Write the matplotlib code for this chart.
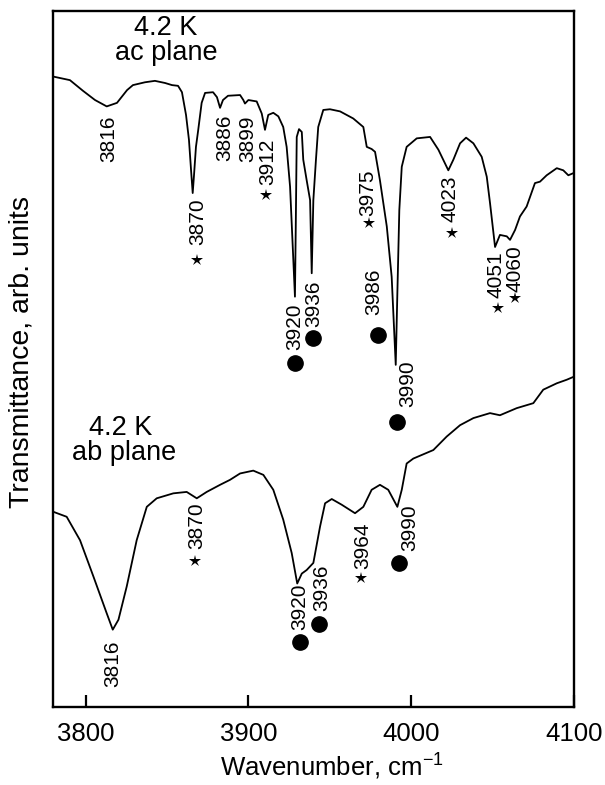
import matplotlib
matplotlib.use("Agg")
import matplotlib.pyplot as plt

# === DATA ===
# upper trace: 4.2 K, ac plane
ac_wavenumber = [3780.2, 3790.4, 3798.4, 3805.8, 3813.0, 3819.3, 3825.5, 3829.1, 3836.5, 3842.6,
                 3848.8, 3853.1, 3856.8, 3859.2, 3861.7, 3863.5, 3864.8, 3865.8, 3866.6, 3867.8,
                 3869.2, 3871.3, 3873.4, 3878.3, 3880.7, 3882.6, 3884.4, 3887.5, 3894.9, 3896.9,
                 3897.9, 3900.0, 3905.1, 3908.2, 3910.2, 3912.2, 3915.3, 3918.4, 3921.4, 3923.5,
                 3925.6, 3927.6, 3928.6, 3929.1, 3929.7, 3931.1, 3932.8, 3933.7, 3935.8, 3937.9,
                 3938.9, 3939.9, 3941.5, 3942.9, 3946.0, 3950.1, 3956.3, 3964.4, 3970.6, 3972.7,
                 3975.7, 3977.8, 3980.8, 3985.0, 3988.0, 3990.5, 3991.5, 3992.7, 3994.2, 3997.2,
                 4003.4, 4011.6, 4016.7, 4022.8, 4025.9, 4030.0, 4033.7, 4038.2, 4043.3, 4046.4,
                 4048.4, 4051.5, 4054.5, 4058.7, 4060.7, 4063.8, 4066.8, 4070.9, 4076.0, 4079.1,
                 4083.2, 4089.4, 4093.4, 4096.5, 4099.6]
ac_transmittance = [90.9, 90.4, 88.9, 87.6, 86.7, 87.2, 89.0, 89.7, 90.1, 90.3,
                    90.0, 89.7, 89.6, 88.7, 85.5, 82.0, 77.7, 74.5, 77.0, 81.0,
                    83.4, 87.2, 88.6, 88.7, 88.0, 86.5, 87.6, 88.2, 88.3, 87.6,
                    87.1, 87.6, 87.4, 85.7, 83.4, 85.5, 85.8, 85.3, 83.8, 81.0,
                    75.4, 65.1, 59.9, 69.8, 82.4, 83.5, 83.1, 79.2, 76.3, 73.5,
                    63.2, 73.5, 79.2, 83.8, 86.2, 86.3, 86.0, 85.0, 83.8, 81.0,
                    80.7, 80.3, 76.3, 69.8, 62.7, 50.3, 60.4, 72.1, 78.2, 81.0,
                    82.2, 82.4, 80.6, 77.7, 79.2, 81.5, 82.3, 81.5, 79.6, 76.8,
                    73.1, 66.9, 68.6, 68.4, 67.9, 69.3, 71.2, 72.6, 75.9, 76.1,
                    77.0, 78.0, 77.7, 77.0, 77.3]

# lower trace: 4.2 K, ab plane
ab_wavenumber = [3780.2, 3788.4, 3796.6, 3804.8, 3813.0, 3816.7, 3820.2, 3825.3, 3831.4, 3837.6,
                 3843.7, 3853.9, 3862.1, 3868.3, 3874.4, 3882.6, 3888.7, 3894.9, 3903.0, 3909.2,
                 3915.3, 3921.4, 3926.6, 3930.0, 3932.8, 3935.8, 3939.9, 3944.0, 3947.1, 3951.2,
                 3957.3, 3965.5, 3970.6, 3975.7, 3980.8, 3985.9, 3991.5, 3994.2, 3997.2, 4001.3,
                 4013.6, 4021.8, 4030.0, 4038.2, 4048.4, 4054.5, 4064.8, 4075.0, 4081.1, 4089.4,
                 4095.5, 4099.6]
ab_transmittance = [29.6, 28.9, 25.6, 20.5, 15.3, 13.0, 14.4, 19.1, 25.6, 30.3,
                    31.5, 32.2, 32.4, 31.5, 32.4, 33.4, 34.1, 35.0, 35.4, 34.8,
                    32.7, 28.5, 23.8, 19.5, 20.9, 21.4, 22.4, 27.5, 30.8, 31.4,
                    30.6, 29.4, 30.3, 32.7, 33.4, 32.7, 30.3, 32.7, 36.4, 37.1,
                    38.3, 40.2, 41.8, 42.8, 43.5, 43.2, 44.2, 44.9, 46.8, 47.7,
                    48.2, 48.6]

# peak labels and their marks ("" = none, "*" = star, "o" = dot)
ac_peaks = ["3816", "3870", "3886", "3899", "3912", "3920", "3936",
            "3975", "3986", "3990", "4023", "4051", "4060"]
ac_marks = ["", "*", "", "", "*", "o", "o", "*", "o", "o", "*", "*", "*"]
ab_peaks = ["3816", "3870", "3920", "3936", "3964", "3990"]
ab_marks = ["", "*", "o", "o", "*", "o"]

x_ticks = [3800, 3900, 4000, 4100]

# === LAYOUT (where each label / mark sits) ===
ac_text_pos = [(3814.4, 82.1), (3868.8, 70.4), (3885.3, 82.3), (3899.5, 82.1),
               (3911.7, 78.9), (3928.3, 55.6), (3940.0, 58.9), (3973.5, 74.6),
               (3976.9, 60.6), (3998.0, 47.6), (4024.1, 73.7), (4051.8, 63.0),
               (4063.8, 63.9)]
ac_mark_pos = [None, (3868.3, 65.1), None, None, (3910.8, 74.2), (3928.6, 50.6),
               (3939.9, 54.1), (3974.3, 70.3), (3979.4, 54.5), (3991.5, 42.3),
               (4024.9, 68.9), (4053.5, 58.3), (4063.8, 59.7)]
ab_text_pos = [(3816.5, 8.2), (3868.1, 27.6), (3931.4, 16.2), (3945.0, 18.9),
               (3970.1, 24.8), (3999.0, 27.3)]
ab_mark_pos = [None, (3867.2, 22.6), (3931.7, 11.3), (3943.4, 13.8),
               (3969.2, 20.3), (3992.7, 22.4)]


def draw_labels(ax, peaks, marks, text_pos, mark_pos):
    for label, mark, tpos, mpos in zip(peaks, marks, text_pos, mark_pos):
        ax.text(tpos[0], tpos[1], label, rotation=90, ha="center", va="center",
                fontsize=15)
        if mark == "*":
            ax.plot(mpos[0], mpos[1], marker="*", color="black", markersize=9,
                    markeredgewidth=0)
        elif mark == "o":
            ax.plot(mpos[0], mpos[1], marker="o", color="black", markersize=11)


def main():
    plt.rcParams["font.family"] = ["Liberation Sans", "DejaVu Sans"]
    plt.rcParams["mathtext.fontset"] = "custom"
    plt.rcParams["mathtext.rm"] = "Liberation Sans"
    plt.rcParams["mathtext.it"] = "Liberation Sans:italic"

    fig = plt.figure(figsize=(6.05, 7.85), dpi=100)
    ax = fig.add_axes([0.0876, 0.0994, 0.8612, 0.8866])

    ax.plot(ac_wavenumber, ac_transmittance, color="black", linewidth=1.3)
    ax.plot(ab_wavenumber, ab_transmittance, color="black", linewidth=1.3)

    draw_labels(ax, ac_peaks, ac_marks, ac_text_pos, ac_mark_pos)
    draw_labels(ax, ab_peaks, ab_marks, ab_text_pos, ab_mark_pos)

    # curve titles
    ax.text(3849.4, 96.7, "4.2 K", ha="center", va="baseline", fontsize=19.5)
    ax.text(3849.4, 93.3, "ac plane", ha="center", va="baseline", fontsize=19.5)
    ax.text(3821.5, 40.4, "4.2 K", ha="center", va="baseline", fontsize=19.5)
    ax.text(3823.9, 36.9, "ab plane", ha="center", va="baseline", fontsize=19.5)

    ax.set_xlim(3780, 4100)
    ax.set_ylim(2.11, 100.14)
    ax.set_xticks(x_ticks)
    ax.set_yticks([])
    ax.tick_params(axis="x", direction="in", length=9, width=1.6,
                   labelsize=18.5, pad=10.5)
    for spine in ax.spines.values():
        spine.set_linewidth(1.7)

    ax.set_xlabel("Wavenumber, cm$^{-1}$", fontsize=18.5, va="baseline")
    ax.xaxis.set_label_coords(0.535, -0.099)
    ax.set_ylabel("Transmittance, arb. units", fontsize=20.5, va="center")
    ax.yaxis.set_label_coords(-0.061, 0.51)

    fig.savefig("out.png", dpi=100)
    plt.close(fig)


if __name__ == "__main__":
    main()
